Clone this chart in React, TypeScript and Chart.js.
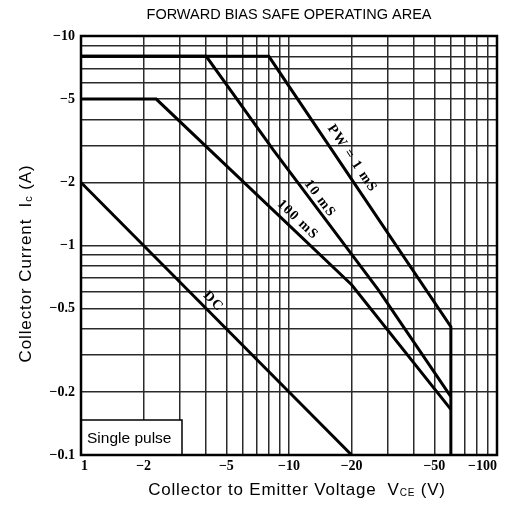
import React, { useEffect, useRef } from 'react';
import { Chart, registerables } from 'chart.js';

Chart.register(...registerables);

// ---- text ----
const chartTitle = 'FORWARD BIAS SAFE OPERATING AREA';
const legendText = 'Single pulse';

// ---- axis grid / tick values ----
const xGridValues = [1, 2, 3, 4, 5, 6, 7, 8, 9, 10, 20, 30, 40, 50, 60, 70, 80, 90, 100];
const xLabelValues = [1, 2, 5, 10, 20, 50, 100];
const xLabelTexts = ['1', '−2', '−5', '−10', '−20', '−50', '−100'];

const yGridValues = [0.1, 0.2, 0.3, 0.4, 0.5, 0.6, 0.7, 0.8, 0.9, 1, 2, 3, 4, 5, 6, 7, 8, 9, 10];
const yLabelValues = [10, 5, 2, 1, 0.5, 0.2, 0.1];
const yLabelTexts = ['−10', '−5', '−2', '−1', '−0.5', '−0.2', '−0.1'];

// ---- curves (|VCE| in V, |IC| in A) ----
const pw1msV = [1, 8, 60, 60];
const pw1msI = [8, 8, 0.41, 0.1];
const pw10msV = [1, 4, 8.4, 27, 60];
const pw10msI = [8, 8, 2.86, 0.61, 0.19];
const pw100msV = [1, 2.3, 20, 60];
const pw100msI = [5, 5, 0.65, 0.165];
const dcV = [1, 20];
const dcI = [2, 0.1];

const curveNames = ['PW = 1 mS', '10 mS', '100 mS', 'DC'];
const curveVs = [pw1msV, pw10msV, pw100msV, dcV];
const curveIs = [pw1msI, pw10msI, pw100msI, dcI];
const labelAnchorV = [18, 13.1, 10.2, 4.0];
const labelOffsetPx = [12, 8, 10, 10];

function findLabel(values: number[], texts: string[], v: number): string {
  for (let i = 0; i < values.length; i++) {
    if (Math.abs(values[i] - v) < 1e-6 * values[i]) return texts[i];
  }
  return '';
}

function drawRich(ctx: CanvasRenderingContext2D, parts: { t: string; sub?: boolean }[], cx: number, baseY: number, size: number, subSize: number, spacing: number) {
  const widths: number[] = [];
  let total = 0;
  (ctx as any).letterSpacing = spacing + 'px';
  parts.forEach((p) => {
    ctx.font = `${p.sub ? subSize : size}px "Liberation Sans", Arial, sans-serif`;
    const w = ctx.measureText(p.t).width;
    widths.push(w);
    total += w;
  });
  let x = cx - total / 2;
  ctx.textAlign = 'left';
  ctx.textBaseline = 'alphabetic';
  parts.forEach((p, i) => {
    ctx.font = `${p.sub ? subSize : size}px "Liberation Sans", Arial, sans-serif`;
    ctx.fillText(p.t, x, baseY + (p.sub ? 1 : 0));
    x += widths[i];
  });
  (ctx as any).letterSpacing = '0px';
}

const decorPlugin = {
  id: 'decor',
  afterDatasetsDraw(chart: any) {
    const { ctx, chartArea: a, scales } = chart;
    const xs = scales.x;
    const ys = scales.y;
    ctx.save();

    // curve labels
    ctx.fillStyle = '#000';
    ctx.font = 'bold 14px "Liberation Serif", "Times New Roman", serif';
    (ctx as any).letterSpacing = '1.2px';
    ctx.textAlign = 'center';
    ctx.textBaseline = 'middle';
    curveNames.forEach((name, k) => {
      const vs = curveVs[k];
      const is = curveIs[k];
      const v = labelAnchorV[k];
      let seg = 0;
      for (let i = 0; i < vs.length - 1; i++) {
        if (vs[i + 1] > vs[i] && v >= vs[i] && v <= vs[i + 1]) { seg = i; break; }
      }
      const t = (Math.log(v) - Math.log(vs[seg])) / (Math.log(vs[seg + 1]) - Math.log(vs[seg]));
      const iv = Math.exp(Math.log(is[seg]) + t * (Math.log(is[seg + 1]) - Math.log(is[seg])));
      const px = xs.getPixelForValue(v);
      const py = ys.getPixelForValue(iv);
      const x0 = xs.getPixelForValue(vs[seg]);
      const y0 = ys.getPixelForValue(is[seg]);
      const x1 = xs.getPixelForValue(vs[seg + 1]);
      const y1 = ys.getPixelForValue(is[seg + 1]);
      const ang = Math.atan2(y1 - y0, x1 - x0);
      ctx.save();
      ctx.translate(px, py);
      ctx.rotate(ang);
      ctx.fillText(name, 0, -labelOffsetPx[k]);
      ctx.restore();
    });
    (ctx as any).letterSpacing = '0px';

    // legend box
    const bw = 101;
    const bh = 35;
    ctx.fillStyle = '#fff';
    ctx.fillRect(a.left, a.bottom - bh, bw, bh);
    ctx.strokeStyle = '#000';
    ctx.lineWidth = 1.5;
    ctx.strokeRect(a.left, a.bottom - bh, bw, bh);
    ctx.fillStyle = '#000';
    ctx.font = '15.5px "Liberation Sans", Arial, sans-serif';
    ctx.textAlign = 'left';
    ctx.textBaseline = 'middle';
    ctx.fillText(legendText, a.left + 6, a.bottom - bh / 2 + 1);

    // frame
    ctx.strokeStyle = '#000';
    ctx.lineWidth = 2.5;
    ctx.strokeRect(a.left, a.top, a.right - a.left, a.bottom - a.top);
    ctx.restore();
  },
  afterDraw(chart: any) {
    const { ctx, chartArea: a } = chart;
    ctx.save();
    ctx.fillStyle = '#000';
    // x title
    drawRich(
      ctx,
      [{ t: 'Collector to Emitter Voltage  V' }, { t: 'CE', sub: true }, { t: ' (V)' }],
      (a.left + a.right) / 2 + 8,
      a.bottom + 40,
      17,
      10,
      0.8
    );
    // y title
    ctx.translate(25, (a.top + a.bottom) / 2 + 18);
    ctx.rotate(-Math.PI / 2);
    drawRich(
      ctx,
      [{ t: 'Collector Current  I' }, { t: 'c', sub: true }, { t: ' (A)' }],
      0,
      6,
      17,
      11,
      0.9
    );
    ctx.restore();
  },
};

const lineStyle = {
  borderColor: '#000',
  backgroundColor: '#000',
  borderWidth: 3,
  pointRadius: 0,
  showLine: true,
  fill: false,
  tension: 0,
};

export default function App() {
  const ref = useRef<HTMLCanvasElement>(null);

  useEffect(() => {
    const mk = (vs: number[], is: number[]) => vs.map((v, i) => ({ x: v, y: is[i] }));
    const chart = new Chart(ref.current as HTMLCanvasElement, {
      type: 'scatter',
      data: {
        datasets: curveNames.map((n, k) => ({ label: n, data: mk(curveVs[k], curveIs[k]), ...lineStyle })),
      },
      options: {
        animation: false,
        responsive: false,
        devicePixelRatio: 1,
        layout: { padding: { left: 0, right: 12, top: 0, bottom: 0 } },
        plugins: {
          legend: { display: false },
          tooltip: { enabled: false },
          title: {
            display: true,
            text: chartTitle,
            fullSize: false,
            color: '#000',
            font: { family: '"Liberation Sans", Arial, sans-serif', size: 14.5, weight: 'normal' },
            padding: { top: 6, bottom: 12.6 },
          },
        },
        scales: {
          x: {
            type: 'logarithmic',
            min: 1,
            max: 100,
            afterBuildTicks: (s: any) => {
              s.ticks = xGridValues.map((v) => ({ value: v }));
            },
            afterFit: (s: any) => {
              s.height = 55;
              s.paddingLeft = 0;
              s.paddingRight = 0;
            },
            ticks: {
              autoSkip: false,
              maxRotation: 0,
              minRotation: 0,
              align: 'inner',
              padding: 3,
              color: '#000',
              font: { family: '"Liberation Serif", "Times New Roman", serif', size: 14, weight: 'bold' },
              callback: (v: any) => findLabel(xLabelValues, xLabelTexts, Number(v)),
            },
            grid: { color: '#2a2a2a', lineWidth: 1.5, drawTicks: false },
            border: { display: false },
          },
          y: {
            type: 'logarithmic',
            min: 0.1,
            max: 10,
            afterBuildTicks: (s: any) => {
              s.ticks = yGridValues.map((v) => ({ value: v }));
            },
            afterFit: (s: any) => {
              s.width = 81;
              s.paddingTop = 0;
              s.paddingBottom = 0;
            },
            ticks: {
              autoSkip: false,
              padding: 6,
              color: '#000',
              font: { family: '"Liberation Serif", "Times New Roman", serif', size: 14, weight: 'bold' },
              callback: (v: any) => findLabel(yLabelValues, yLabelTexts, Number(v)),
            },
            grid: { color: '#2a2a2a', lineWidth: 1.5, drawTicks: false },
            border: { display: false },
          },
        },
      } as any,
      plugins: [decorPlugin],
    });
    return () => chart.destroy();
  }, []);

  return (
    <div style={{ position: 'absolute', left: 0, top: 0, width: 509, height: 510, background: '#fff' }}>
      <canvas ref={ref} width={509} height={510} style={{ display: 'block', width: 509, height: 510 }} />
    </div>
  );
}
